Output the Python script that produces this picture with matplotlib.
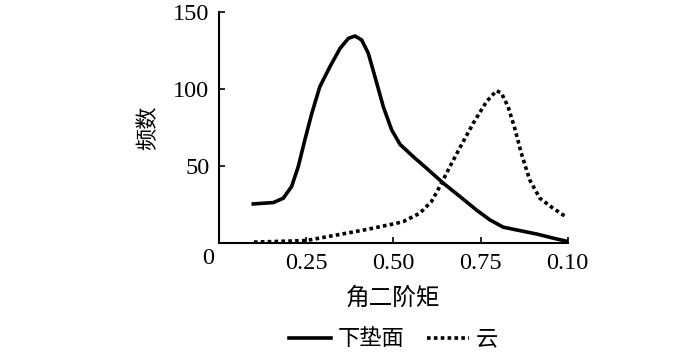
import matplotlib
matplotlib.use("Agg")
from matplotlib import pyplot as plt

plt.rcParams['font.family'] = ['Liberation Serif', 'Noto Sans CJK SC']

# 下垫面 (solid curve)
ground_x = [0.098, 0.156, 0.184, 0.208, 0.227, 0.246, 0.266, 0.289, 0.318, 0.347,
            0.371, 0.39, 0.409, 0.428, 0.447, 0.471, 0.495, 0.519, 0.557, 0.595,
            0.643, 0.691, 0.738, 0.777, 0.815, 0.862, 0.91, 0.958, 1.0]
ground_y = [25.3, 26.2, 29.0, 36.6, 49.5, 66.9, 84.2, 101.5, 114.5, 126.4,
            132.9, 134.4, 131.8, 123.2, 108, 88.5, 73.4, 64, 56, 48.5,
            38.8, 30.1, 21.4, 14.9, 10.2, 8.0, 5.8, 3.1, 0.9]

# 云 (dotted curve)
cloud_x = [0.10, 0.25, 0.366, 0.43, 0.50, 0.528, 0.576, 0.609, 0.633, 0.662,
           0.695, 0.729, 0.767, 0.796, 0.81, 0.829, 0.848, 0.867, 0.891, 0.92,
           0.958, 0.998]
cloud_y = [0.5, 1.5, 6.3, 9.0, 12.3, 13.8, 19.3, 26.8, 36.6, 49.5,
           63.6, 77.7, 91.8, 98.9, 97.2, 88.5, 74.5, 58.2, 40.9, 29.0,
           22.5, 16.5]

x_ticks = [0.25, 0.50, 0.75, 1.00]
x_tick_labels = ['0.25', '0.50', '0.75', '0.10']
y_ticks = [50, 100, 150]

fig = plt.figure(figsize=(7, 3.53), dpi=100)
ax = fig.add_axes([0.313, 0.312, 0.498, 0.654])

ax.plot(ground_x, ground_y, color='black', linewidth=2.6, label='下垫面',
        solid_joinstyle='round')
ax.plot(cloud_x, cloud_y, color='black', linewidth=2.6, linestyle=(0, (1, 0.9)),
        label='云')

ax.set_xlim(0, 1.0)
ax.set_ylim(0, 150)
ax.set_xticks(x_ticks)
ax.set_xticklabels(x_tick_labels)
ax.set_yticks(y_ticks)
ax.tick_params(direction='in', length=4, width=1.2, labelsize=17.5, pad=7)
ax.spines['top'].set_visible(False)
ax.spines['right'].set_visible(False)
ax.spines['left'].set_linewidth(1.5)
ax.spines['bottom'].set_linewidth(1.5)

# origin label
fig.text(207.7 / 700, 1 - 258 / 353, '0', fontsize=17.5, ha='center', va='center')

ax.set_xlabel('角二阶矩', fontsize=17, labelpad=10)
ax.set_ylabel('频数', fontsize=16, labelpad=10)

ax.legend(loc='center', bbox_to_anchor=(0.5, -0.42), ncol=2, frameon=False,
          fontsize=16, handlelength=1.9, handletextpad=0.3, columnspacing=1.0,
          borderpad=0.1)

fig.savefig('out.png', dpi=100)
